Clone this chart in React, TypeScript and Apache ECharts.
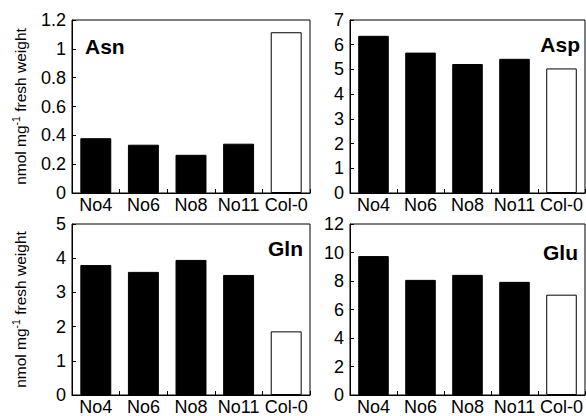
import React, { useEffect, useRef } from "react";
import * as echarts from "echarts";

const categories = ["No4", "No6", "No8", "No11", "Col-0"];
const asnValues = [0.38, 0.335, 0.265, 0.342, 1.115];
const aspValues = [6.36, 5.68, 5.22, 5.43, 5.04];
const glnValues = [3.8, 3.6, 3.95, 3.51, 1.86];
const gluValues = [9.75, 8.08, 8.43, 7.94, 7.04];
const panelNames = ["Asn", "Asp", "Gln", "Glu"];
const yMax = [1.2, 7, 5, 12];
const yInterval = [0.2, 1, 1, 2];

const FONT = "Liberation Sans, Arial, sans-serif";

export default function App() {
  const ref = useRef<HTMLDivElement>(null);
  useEffect(() => {
    if (!ref.current) return;
    const chart = echarts.init(ref.current, undefined, { renderer: "svg" });
    const seriesData = [asnValues, aspValues, glnValues, gluValues];
    const grids = [
      { left: 72, top: 20, width: 238, height: 173 },
      { left: 350, top: 20, width: 235, height: 173 },
      { left: 72, top: 224, width: 238, height: 173 },
      { left: 350, top: 224, width: 235, height: 173 },
    ];
    const labelPos = [
      { x: 85, y: 46, align: "left" },
      { x: 580, y: 44, align: "right" },
      { x: 303, y: 248, align: "right" },
      { x: 578, y: 252, align: "right" },
    ];
    const option: any = {
      animation: false,
      grid: grids.map((g) => ({
        ...g,
        show: true,
        borderColor: "#000",
        borderWidth: 1,
        backgroundColor: "transparent",
        containLabel: false,
      })),
      xAxis: grids.map((_, i) => ({
        type: "category",
        gridIndex: i,
        data: categories,
        axisLine: { show: true, lineStyle: { color: "#000", width: 1 } },
        axisTick: { show: true, inside: true, length: 4, lineStyle: { color: "#000" } },
        axisLabel: { color: "#000", fontSize: 18, fontFamily: FONT, margin: 3, interval: 0 },
        splitLine: { show: false },
      })),
      yAxis: grids.map((_, i) => ({
        type: "value",
        gridIndex: i,
        min: 0,
        max: yMax[i],
        interval: yInterval[i],
        axisLine: { show: true, lineStyle: { color: "#000", width: 1 } },
        axisTick: { show: true, inside: true, length: 4, lineStyle: { color: "#000" } },
        axisLabel: { color: "#000", fontSize: 18, fontFamily: FONT, margin: 6 },
        splitLine: { show: false },
        name: i % 2 === 0 ? "{a|nmol mg}{b|-1}{a| fresh weight}" : "",
        nameLocation: "middle",
        nameRotate: 90,
        nameGap: 41,
        nameTextStyle: {
          color: "#000",
          fontFamily: FONT,
          fontSize: 15.5,
          rich: {
            a: { fontSize: 15.5, fontFamily: FONT, color: "#000" },
            b: { fontSize: 10.5, fontFamily: FONT, color: "#000", padding: [0, 0, 10, 0] },
          },
        },
      })),
      series: seriesData.map((d, i) => ({
        type: "bar",
        xAxisIndex: i,
        yAxisIndex: i,
        barCategoryGap: "35%",
        data: d.map((v, j) => ({
          value: v,
          itemStyle: {
            color: j === 4 ? "#fff" : "#000",
            borderColor: "#000",
            borderWidth: 1,
          },
        })),
      })),
      graphic: panelNames.map((n, i) => ({
        type: "text",
        x: labelPos[i].x,
        y: labelPos[i].y,
        style: {
          text: n,
          font: `bold 21px ${FONT}`,
          fill: "#000",
          align: labelPos[i].align,
          verticalAlign: "middle",
        },
      })),
    };
    chart.setOption(option);
    return () => chart.dispose();
  }, []);
  return (
    <div
      ref={ref}
      style={{ position: "fixed", left: 0, top: 0, width: 586, height: 416, background: "#fff" }}
    />
  );
}
